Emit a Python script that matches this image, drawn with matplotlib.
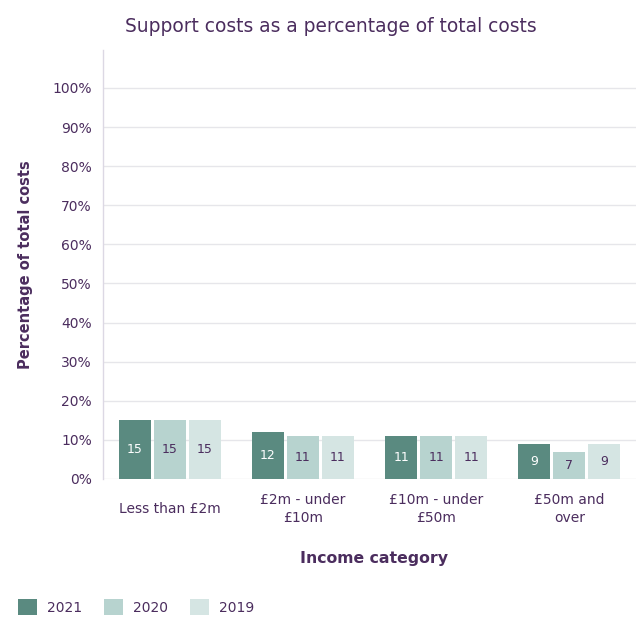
import matplotlib
matplotlib.use("Agg")
import matplotlib.pyplot as plt
from matplotlib.patches import Patch
import numpy as np

categories = ["Less than £2m", "£2m - under\n£10m", "£10m - under\n£50m", "£50m and\nover"]
years = ["2021", "2020", "2019"]
values_2021 = [15, 12, 11, 9]
values_2020 = [15, 11, 11, 7]
values_2019 = [15, 11, 11, 9]
yticks = [0, 10, 20, 30, 40, 50, 60, 70, 80, 90, 100]

series = [values_2021, values_2020, values_2019]
colors = ["#5a8a80", "#b7d3cf", "#d5e5e3"]
label_colors = ["white", "#4b2d5e", "#4b2d5e"]
text_color = "#4b2d5e"

plt.rcParams['font.family'] = ['DejaVu Sans']

fig = plt.figure(figsize=(6.36, 6.17), dpi=100)
ax = fig.add_axes([103/636, (617-479)/617, 1 - 103/636, (479-50)/617])

x = np.arange(len(categories))
step = 0.263
width = 0.24
for i, (vals, c, lc) in enumerate(zip(series, colors, label_colors)):
    pos = x + (i - 1) * step
    bars = ax.bar(pos, vals, width=width, color=c, zorder=3)
    for b, v in zip(bars, vals):
        ax.text(b.get_x() + b.get_width()/2, v/2, f"{v}", ha='center', va='center',
                color=lc, fontsize=9, zorder=4)

ax.set_xlim(-0.5, len(categories) - 0.5)
ax.set_ylim(0, 109.7)
ax.set_yticks(yticks)
ax.set_yticklabels([f"{t}%" for t in yticks], color=text_color, fontsize=10)
ax.set_xticks(x)
ax.set_xticklabels(categories, color=text_color, fontsize=10, linespacing=1.3)
for lab in ax.get_xticklabels():
    lab.set_va('center')
ax.tick_params(axis='x', length=0, pad=21.5)
ax.tick_params(axis='y', length=0, pad=8)
ax.grid(axis='y', color='#e6e6ea', linewidth=1, zorder=0)
for s in ['top', 'right', 'bottom']:
    ax.spines[s].set_visible(False)
ax.spines['left'].set_color('#dcd8e4')
ax.spines['left'].set_linewidth(1)

ax.set_ylabel("Percentage of total costs", color=text_color, fontsize=10.5,
              fontweight='bold')
ax.yaxis.set_label_coords(-0.132, 0.5)
fig.text(374/636, 1 - 558/617, "Income category", ha='center', va='center',
         color=text_color, fontsize=11.3, fontweight='bold')
fig.text(331/636, 1 - 27/617, "Support costs as a percentage of total costs",
         ha='center', va='center', color=text_color, fontsize=13.4)

handles = [Patch(facecolor=c, edgecolor='none') for c in colors]
fig.legend(handles, years, loc='center left', bbox_to_anchor=(18/636, 1 - 607/617),
           ncol=3, frameon=False, fontsize=10, labelcolor=text_color,
           handlelength=1.4, handleheight=1.4, handletextpad=0.7, columnspacing=1.55,
           borderaxespad=0, borderpad=0)

fig.savefig("out.png", dpi=100)
